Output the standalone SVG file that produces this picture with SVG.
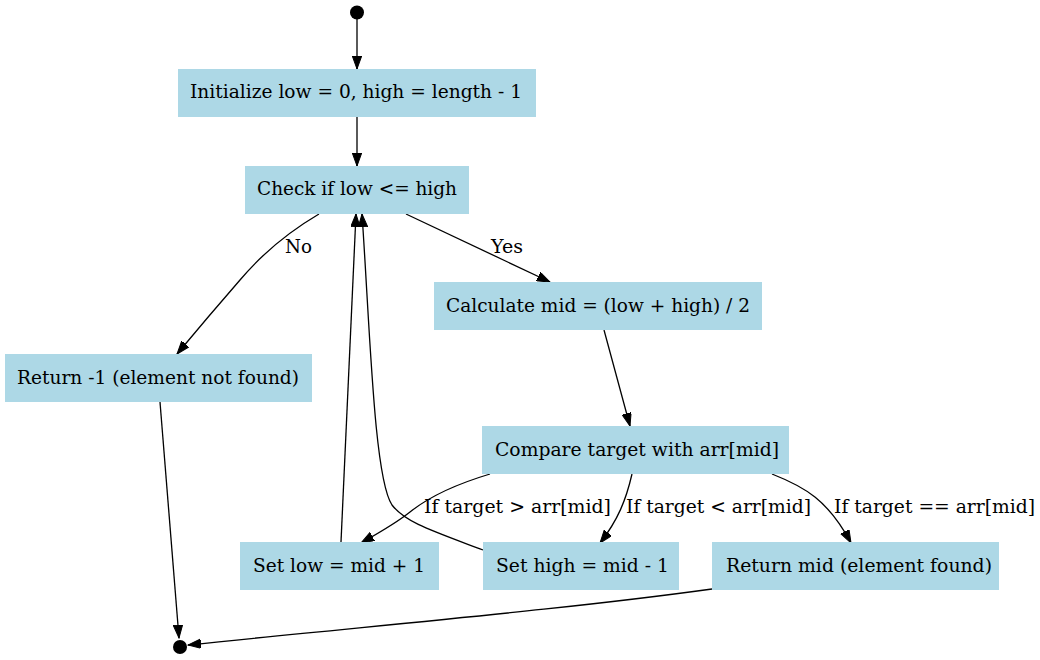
<svg xmlns="http://www.w3.org/2000/svg" width="1040" height="660" viewBox="0 0 1040 660">
<style>
.box{fill:#add8e6;stroke:#add8e6;stroke-width:1}
.t{font-family:"DejaVu Serif","Liberation Serif",serif;font-size:18.67px;fill:#000}
.e{fill:none;stroke:#000;stroke-width:1.3}
.pt{fill:#000}
</style>
<defs>
<marker id="arr" markerUnits="userSpaceOnUse" markerWidth="14" markerHeight="10" refX="13" refY="4.7" orient="auto" viewBox="0 0 14 10">
<path d="M0,0 L13,4.7 L0,9.4 Z" fill="#000" stroke="#000" stroke-width="1"/>
</marker>
</defs>
<rect width="1040" height="660" fill="#fff"/>
<g id="edges">
<path class="e" d="M357,19 L357,69" marker-end="url(#arr)"/>
<path class="e" d="M357,117 L357,166" marker-end="url(#arr)"/>
<path class="e" d="M319,214 C285,234 262,254 240,280 C220,303 197,330 177,354" marker-end="url(#arr)"/>
<path class="e" d="M406,214 L550,282" marker-end="url(#arr)"/>
<path class="e" d="M604,330 L630,426" marker-end="url(#arr)"/>
<path class="e" d="M490,474 C450,486 425,500 410,512 C395,524 375,535 361,543" marker-end="url(#arr)"/>
<path class="e" d="M632,474 C626,500 618,520 600,543" marker-end="url(#arr)"/>
<path class="e" d="M772,474 C805,487 828,500 851,543" marker-end="url(#arr)"/>
<path class="e" d="M341,542 L356,214" marker-end="url(#arr)"/>
<path class="e" d="M483,550 C430,530 405,522 392,505 C374,478 370,330 362,214" marker-end="url(#arr)"/>
<path class="e" d="M160,402 L179,638" marker-end="url(#arr)"/>
<path class="e" d="M712,589 C560,610 380,625 188,645" marker-end="url(#arr)"/>
</g>
<g id="labels">
<text class="t" x="285" y="253" textLength="27" lengthAdjust="spacingAndGlyphs">No</text>
<text class="t" x="491" y="253" textLength="32" lengthAdjust="spacingAndGlyphs">Yes</text>
<text class="t" x="424" y="513" textLength="187" lengthAdjust="spacingAndGlyphs">If target &gt; arr[mid]</text>
<text class="t" x="626" y="513" textLength="185" lengthAdjust="spacingAndGlyphs">If target &lt; arr[mid]</text>
<text class="t" x="834" y="513" textLength="201" lengthAdjust="spacingAndGlyphs">If target == arr[mid]</text>
</g>
<g id="start"><circle class="pt" cx="357" cy="12.5" r="7"/></g>
<g id="init"><rect class="box" x="178.5" y="69.5" width="357" height="47"/><text class="t" x="190" y="98" textLength="332" lengthAdjust="spacingAndGlyphs">Initialize low = 0, high = length - 1</text></g>
<g id="check"><rect class="box" x="245.5" y="166.5" width="223" height="47"/><text class="t" x="257" y="195" textLength="200" lengthAdjust="spacingAndGlyphs">Check if low &lt;= high</text></g>
<g id="notfound"><rect class="box" x="5.5" y="354.5" width="306" height="47"/><text class="t" x="17" y="384" textLength="282" lengthAdjust="spacingAndGlyphs">Return -1 (element not found)</text></g>
<g id="calc"><rect class="box" x="434.5" y="282.5" width="327" height="47"/><text class="t" x="446" y="312" textLength="304" lengthAdjust="spacingAndGlyphs">Calculate mid = (low + high) / 2</text></g>
<g id="compare"><rect class="box" x="482.5" y="426.5" width="306" height="47"/><text class="t" x="495" y="456" textLength="284" lengthAdjust="spacingAndGlyphs">Compare target with arr[mid]</text></g>
<g id="setlow"><rect class="box" x="240.5" y="542.5" width="198" height="47"/><text class="t" x="253" y="572" textLength="172" lengthAdjust="spacingAndGlyphs">Set low = mid + 1</text></g>
<g id="sethigh"><rect class="box" x="483.5" y="542.5" width="195" height="47"/><text class="t" x="496" y="572" textLength="173" lengthAdjust="spacingAndGlyphs">Set high = mid - 1</text></g>
<g id="found"><rect class="box" x="712.5" y="542.5" width="286" height="47"/><text class="t" x="726" y="572" textLength="266" lengthAdjust="spacingAndGlyphs">Return mid (element found)</text></g>
<g id="end"><circle class="pt" cx="180" cy="647" r="7"/></g>
</svg>
